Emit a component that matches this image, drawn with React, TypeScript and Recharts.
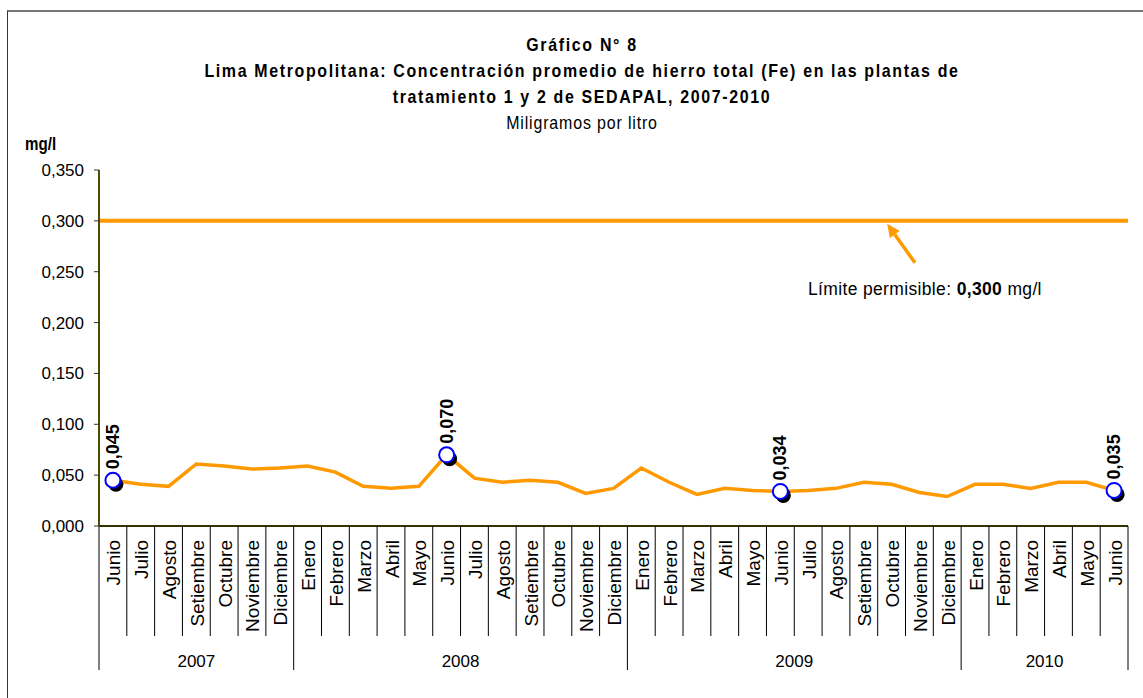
import React from 'react';
import { LineChart, Line, XAxis, YAxis, ReferenceLine } from 'recharts';

const categoryMonths = [
  'Junio', 'Julio', 'Agosto', 'Setiembre', 'Octubre', 'Noviembre', 'Diciembre',
  'Enero', 'Febrero', 'Marzo', 'Abril', 'Mayo', 'Junio', 'Julio', 'Agosto', 'Setiembre', 'Octubre', 'Noviembre', 'Diciembre',
  'Enero', 'Febrero', 'Marzo', 'Abril', 'Mayo', 'Junio', 'Julio', 'Agosto', 'Setiembre', 'Octubre', 'Noviembre', 'Diciembre',
  'Enero', 'Febrero', 'Marzo', 'Abril', 'Mayo', 'Junio',
];
const categoryYears = [
  '2007', '2007', '2007', '2007', '2007', '2007', '2007',
  '2008', '2008', '2008', '2008', '2008', '2008', '2008', '2008', '2008', '2008', '2008', '2008',
  '2009', '2009', '2009', '2009', '2009', '2009', '2009', '2009', '2009', '2009', '2009', '2009',
  '2010', '2010', '2010', '2010', '2010', '2010',
];
const feValues = [
  0.045, 0.041, 0.039, 0.061, 0.059, 0.056, 0.057,
  0.059, 0.053, 0.039, 0.037, 0.039, 0.070, 0.047, 0.043, 0.045, 0.043, 0.032, 0.037,
  0.057, 0.043, 0.031, 0.037, 0.035, 0.034, 0.035, 0.037, 0.043, 0.041, 0.033, 0.029,
  0.041, 0.041, 0.037, 0.043, 0.043, 0.035,
];
const labeledPoints = ['2007-Junio', '2008-Junio', '2009-Junio', '2010-Junio'];
const yTicks = [0, 0.05, 0.1, 0.15, 0.2, 0.25, 0.3, 0.35];
const limitValue = 0.3;

const data = categoryMonths.map((m, i) => ({
  key: `${categoryYears[i]}-${m}`,
  month: m,
  year: categoryYears[i],
  fe: feValues[i],
}));

const W = 1143;
const H = 698;
const PLOT_LEFT = 99;
const PLOT_RIGHT = 1128;
const PLOT_TOP = 170;
const PLOT_BOTTOM = 526;
const Y_AXIS_W = 60;
const X_AXIS_H = 150;
const N = data.length;
const BAND = (PLOT_RIGHT - PLOT_LEFT) / N;

const ORANGE = '#FF9900';
const OLIVE = '#808000';
const fmt = (v: number) => v.toFixed(3).replace('.', ',');
const SANS = '"Liberation Sans", Arial, sans-serif';

const MonthTick = (props: any) => {
  const { x, y, index } = props;
  const isYearStart = index === 0 || categoryYears[index] !== categoryYears[index - 1];
  const isLast = index === N - 1;
  let yearLabel: React.ReactNode = null;
  if (isYearStart) {
    const yr = categoryYears[index];
    const count = categoryYears.filter((c) => c === yr).length;
    const cx = x - BAND / 2 + (count * BAND) / 2;
    yearLabel = (
      <text x={cx} y={y + 141} textAnchor="middle" fontSize={17} fontFamily={SANS} fill="#000">
        {yr}
      </text>
    );
  }
  const ty = y + 14;
  return (
    <g>
      <line x1={x - BAND / 2} y1={y} x2={x - BAND / 2} y2={y + (isYearStart ? 144 : 110)} stroke="#000" strokeWidth={1} />
      {isLast && <line x1={x + BAND / 2} y1={y} x2={x + BAND / 2} y2={y + 144} stroke="#000" strokeWidth={1} />}
      <text
        x={x + 1}
        y={ty}
        transform={`rotate(-90, ${x + 1}, ${ty})`}
        textAnchor="end"
        dominantBaseline="central"
        fontSize={19}
        fontFamily={SANS}
        fill="#000"
      >
        {categoryMonths[index]}
      </text>
      {yearLabel}
    </g>
  );
};

const MarkerDot = (props: any) => {
  const { cx, cy, payload } = props;
  if (!payload || !labeledPoints.includes(payload.key)) return <g key={`d-${props.index}`} />;
  return (
    <g key={`d-${props.index}`}>
      <circle cx={cx + 3} cy={cy + 4} r={7.5} fill="#000" />
      <circle cx={cx} cy={cy} r={7.5} fill="#fff" stroke="#0000FF" strokeWidth={2} />
    </g>
  );
};

const ValueLabel = (props: any) => {
  const { x, y, index } = props;
  const d = data[index];
  if (!d || !labeledPoints.includes(d.key)) return null;
  const lx = x + 6;
  const ly = y - 11;
  return (
    <text
      x={lx}
      y={ly}
      transform={`rotate(-90, ${lx}, ${ly})`}
      textAnchor="start"
      fontSize={18}
      fontWeight="bold"
      fontFamily={SANS}
      fill="#000"
    >
      {fmt(d.fe)}
    </text>
  );
};

const LimitAnnotation = (props: any) => {
  const vb = props.viewBox || {};
  const x0 = vb.x ?? PLOT_LEFT;
  const y0 = vb.y ?? 0;
  const w = vb.width ?? PLOT_RIGHT - PLOT_LEFT;
  const tipX = x0 + w * 0.766;
  const tipY = y0 + 3;
  const tailX = x0 + w * 0.793;
  const tailY = y0 + 42;
  const ang = Math.atan2(tipY - tailY, tipX - tailX);
  const hl = 13;
  const hw = 6;
  const bx = tipX - hl * Math.cos(ang);
  const by = tipY - hl * Math.sin(ang);
  const px = -Math.sin(ang) * hw;
  const py = Math.cos(ang) * hw;
  return (
    <g>
      <line x1={tailX} y1={tailY} x2={bx} y2={by} stroke={ORANGE} strokeWidth={3.5} />
      <polygon points={`${tipX},${tipY} ${bx + px},${by + py} ${bx - px},${by - py}`} fill={ORANGE} />
      <text x={x0 + w * 0.689} y={y0 + 74} fontSize={17.5} letterSpacing={0.35} fontFamily={SANS} fill="#000">
        Límite permisible: <tspan fontWeight="bold">{fmt(limitValue)}</tspan> mg/l
      </text>
    </g>
  );
};

const titleStyle: React.CSSProperties = {
  position: 'absolute',
  left: 0,
  width: 1164,
  textAlign: 'center',
  fontFamily: SANS,
  fontSize: 19,
  color: '#000',
  whiteSpace: 'nowrap',
  lineHeight: '22px',
  transform: 'scaleX(0.84)',
  transformOrigin: '582px 0',
};

export default function App() {
  return (
    <div style={{ position: 'absolute', left: 0, top: 0, width: W, height: H, background: '#fff', overflow: 'hidden' }}>
      <div
        style={{
          position: 'absolute',
          left: 7,
          top: 10,
          width: W,
          height: H,
          borderLeft: '1px solid #333',
          borderTop: '2px solid #777',
        }}
      />
      <div style={{ ...titleStyle, top: 34, fontWeight: 'bold', letterSpacing: 2 }}>Gráfico N° 8</div>
      <div style={{ ...titleStyle, top: 60, fontWeight: 'bold', letterSpacing: 1.95 }}>
        Lima Metropolitana: Concentración promedio de hierro total (Fe) en las plantas de
      </div>
      <div style={{ ...titleStyle, top: 86, fontWeight: 'bold', letterSpacing: 1.95 }}>
        tratamiento 1 y 2 de SEDAPAL, 2007-2010
      </div>
      <div style={{ ...titleStyle, top: 112, letterSpacing: 1 }}>Miligramos por litro</div>
      <div
        style={{
          position: 'absolute',
          left: 25,
          top: 134,
          fontFamily: SANS,
          fontWeight: 'bold',
          fontSize: 18,
          color: '#000',
          transform: 'scaleX(0.84)',
          transformOrigin: '0 0',
        }}
      >
        mg/l
      </div>
      <div style={{ position: 'absolute', left: 0, top: 0 }}>
        <LineChart
          width={W}
          height={H}
          data={data}
          margin={{ top: PLOT_TOP, left: PLOT_LEFT - Y_AXIS_W, right: W - PLOT_RIGHT, bottom: H - PLOT_BOTTOM - X_AXIS_H }}
        >
          <XAxis
            dataKey="key"
            interval={0}
            height={X_AXIS_H}
            tickLine={false}
            tickSize={0}
            tickMargin={0}
            tick={<MonthTick />}
            padding={{ left: BAND / 2, right: BAND / 2 }}
            axisLine={{ stroke: '#333300', strokeWidth: 2 }}
          />
          <XAxis
            xAxisId="top"
            dataKey="key"
            orientation="top"
            height={0}
            tick={false}
            tickLine={false}
            axisLine={{ stroke: OLIVE, strokeWidth: 2 }}
          />
          <YAxis
            width={Y_AXIS_W}
            domain={[0, 0.35]}
            ticks={yTicks}
            tickFormatter={fmt}
            tickSize={5}
            tickMargin={10}
            interval={0}
            tick={{ fontSize: 17, fontFamily: SANS, fill: '#000' }}
            tickLine={{ stroke: '#333' }}
            axisLine={{ stroke: '#4d4d00', strokeWidth: 2 }}
          />
          <YAxis
            yAxisId="right"
            orientation="right"
            width={0}
            tick={false}
            tickLine={false}
            axisLine={{ stroke: '#999933', strokeWidth: 2 }}
          />
          <ReferenceLine
            y={limitValue}
            stroke={ORANGE}
            strokeWidth={4}
            ifOverflow="visible"
            label={(p: any) => <LimitAnnotation {...p} />}
          />
          <Line
            dataKey="fe"
            type="linear"
            stroke={ORANGE}
            strokeWidth={3.5}
            dot={(p: any) => <MarkerDot {...p} />}
            activeDot={false}
            label={(p: any) => <ValueLabel {...p} />}
            isAnimationActive={false}
          />
        </LineChart>
      </div>
    </div>
  );
}
